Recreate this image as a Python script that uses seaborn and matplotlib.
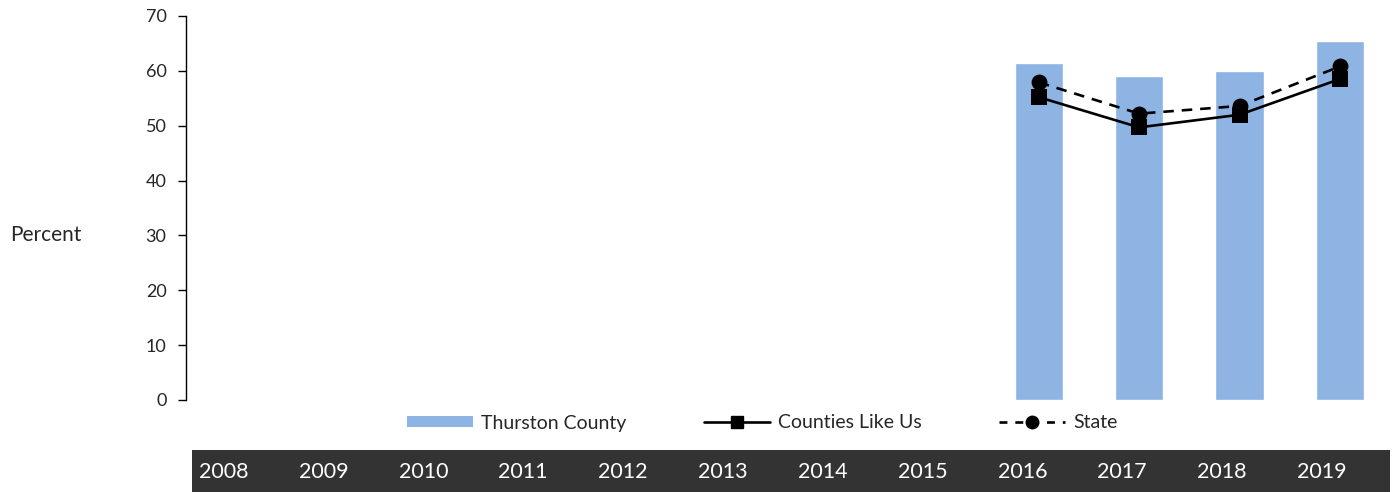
import numpy as np
import pandas as pd
import seaborn as sns
import matplotlib.pyplot as plt
from matplotlib.patches import Patch
from matplotlib.lines import Line2D

years = ["2008", "2009", "2010", "2011", "2012", "2013",
         "2014", "2015", "2016", "2017", "2018", "2019"]
thurston = [np.nan] * 8 + [61.4, 59.1, 59.9, 65.5]
counties_like_us = [np.nan] * 8 + [55.2, 49.7, 52.0, 58.5]
state = [np.nan] * 8 + [57.9, 52.2, 53.6, 60.8]

bar_color = "#8EB4E3"
band_color = "#333333"

df = pd.DataFrame({"year": years, "thurston": thurston,
                   "peers": counties_like_us, "state": state})

sns.set_style("white")
plt.rcParams["font.family"] = ["Lato", "DejaVu Sans"]

W, H = 1396, 492
fig = plt.figure(figsize=(W / 100, H / 100), dpi=100)
ax = fig.add_axes([186 / W, 92 / H, 1204 / W, 384 / H])

sns.barplot(data=df, x="year", y="thurston", order=years, color=bar_color,
            width=0.48, saturation=1, ax=ax)
sns.pointplot(data=df, x="year", y="peers", order=years, color="black",
              marker="s", linestyle="-", linewidth=1.9, markersize=10,
              errorbar=None, ax=ax)
sns.pointplot(data=df, x="year", y="state", order=years, color="black",
              marker="o", linestyle="--", linewidth=1.9, markersize=10,
              errorbar=None, ax=ax)
for line in ax.lines:
    if line.get_linestyle() == "--":
        line.set_dashes((4, 3))

ax.set_xlim(-0.5, 11.5)
ax.set_ylim(0, 70)
ax.set_yticks(range(0, 71, 10))
ax.set_xticks([])
ax.set_xlabel("")
ax.set_ylabel("")
for s in ["top", "right", "bottom"]:
    ax.spines[s].set_visible(False)
ax.spines["left"].set_color("black")
ax.spines["left"].set_linewidth(1)
ax.tick_params(axis="y", left=True, length=6, width=1, color="black",
               labelsize=13, pad=8)

fig.text(10 / W, 1 - 235 / H, "Percent", fontsize=15, ha="left", va="center")

handles = [
    Patch(facecolor=bar_color, edgecolor="none"),
    Line2D([], [], color="black", linewidth=1.9, marker="s", markersize=9),
    Line2D([], [], color="black", linewidth=1.9, linestyle=(0, (3, 3)),
           marker="o", markersize=9),
]
fig.legend(handles, ["Thurston County", "Counties Like Us", "State"],
           loc="center", bbox_to_anchor=(762 / W, 1 - 423 / H), ncol=3,
           frameon=False, fontsize=14, handlelength=3.4, handletextpad=0.4,
           columnspacing=4.0, handleheight=0.5)

band = fig.add_axes([192 / W, 0, 1198 / W, 42 / H])
band.set_facecolor(band_color)
band.set_xlim(-0.5, 11.5)
band.set_ylim(0, 1)
band.set_xticks([])
band.set_yticks([])
for s in band.spines.values():
    s.set_visible(False)
for i, y in enumerate(years):
    band.text(i - 0.43, 0.48, y, color="white", fontsize=15.5,
              ha="left", va="center")

fig.savefig("out.png", dpi=100)
